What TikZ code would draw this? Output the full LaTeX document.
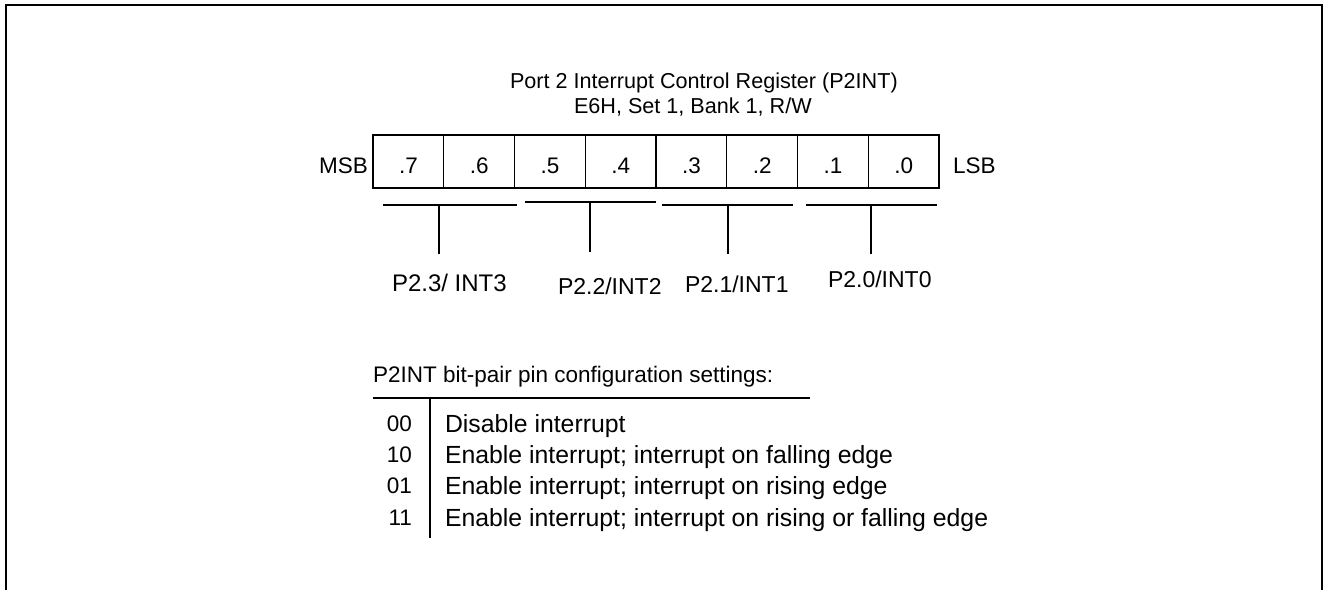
\documentclass[tikz,border=0pt]{standalone}
\usepackage{fontspec}
\setmainfont{Liberation Sans}
\begin{document}
\begin{tikzpicture}[x=1pt,y=-1pt,line width=1.4pt,
  every node/.style={inner sep=0pt,outer sep=0pt},
  titletxt/.style={font=\fontsize{21.6}{25}\selectfont},
  regtxt/.style={font=\fontsize{22.5}{26}\selectfont,anchor=base},
  pintxt/.style={font=\fontsize{23}{27}\selectfont,anchor=base west},
  headtxt/.style={font=\fontsize{22.5}{27}\selectfont,anchor=base west},
  codetxt/.style={font=\fontsize{22.5}{25}\selectfont,anchor=base east},
  desctxt/.style={font=\fontsize{24.8}{29}\selectfont,anchor=base west},
  frame/.style={line width=2.2pt},
  brk/.style={line width=1.4pt}]
\useasboundingbox (0,0) rectangle (1323,590);
\draw[frame] (6,590) -- (6,5) -- (1322,5) -- (1322,590);

% title
\node[titletxt,anchor=base west] (t1) at (510,88) {Port 2 Interrupt Control Register (P2INT)};
\node[titletxt,anchor=base west] (t2) at (574,113) {E6H, Set 1, Bank 1, R/W};

% register
\draw (373,135) rectangle (939,188);
\foreach \k in {1,...,7} {\draw (373+\k*70.75,135) -- (373+\k*70.75,188);}
\foreach \k/\lab in {0/.7,1/.6,2/.5,3/.4,4/.3,5/.2,6/.1,7/.0}
  {\node[regtxt] (b\k) at (373+\k*70.75+35.4,173) {\lab};}
\node[regtxt,anchor=base east] (msb) at (368,173) {MSB};
\node[regtxt,anchor=base west] (lsb) at (953,173) {LSB};

% brackets
\coordinate (a1) at (383,205); \coordinate (a2) at (517,205); \coordinate (a3) at (439,205); \coordinate (a4) at (439,254);
\coordinate (c1) at (525,202); \coordinate (c2) at (656,202); \coordinate (c3) at (590,202); \coordinate (c4) at (590,252);
\coordinate (d1) at (662,205); \coordinate (d2) at (793,205); \coordinate (d3) at (728,205); \coordinate (d4) at (728,254);
\coordinate (e1) at (806,205); \coordinate (e2) at (937,205); \coordinate (e3) at (871,205); \coordinate (e4) at (871,254);
\draw[brk] (a1) -- (a2) (a3) -- (a4);
\draw[brk] (c1) -- (c2) (c3) -- (c4);
\draw[brk] (d1) -- (d2) (d3) -- (d4);
\draw[brk] (e1) -- (e2) (e3) -- (e4);

\node[pintxt,font=\fontsize{24}{27}\selectfont] (p3) at (392,291) {P2.3/ INT3};
\node[pintxt] (p2) at (558,294) {P2.2/INT2};
\node[pintxt] (p1) at (685,292) {P2.1/INT1};
\node[pintxt] (p0) at (828,287) {P2.0/INT0};

% settings table
\node[headtxt] (hd) at (373,382) {P2INT bit-pair pin configuration settings:};
\coordinate (h1) at (373,398); \coordinate (h2) at (810,398);
\coordinate (v1) at (430,398); \coordinate (v2) at (430,538);
\draw[brk] (h1) -- (h2);
\draw[brk] (v1) -- (v2);

\node[codetxt] (c00) at (412,431) {00};
\node[codetxt] (c10) at (412,462.3) {10};
\node[codetxt] (c01) at (412,493.6) {01};
\node[codetxt] (c11) at (412,525) {11};
\node[desctxt] (r00) at (445,432) {Disable interrupt};
\node[desctxt] (r10) at (445,463.3) {Enable interrupt; interrupt on falling edge};
\node[desctxt] (r01) at (445,494.6) {Enable interrupt; interrupt on rising edge};
\node[desctxt] (r11) at (445,526) {Enable interrupt; interrupt on rising or falling edge};
\end{tikzpicture}
\end{document}
